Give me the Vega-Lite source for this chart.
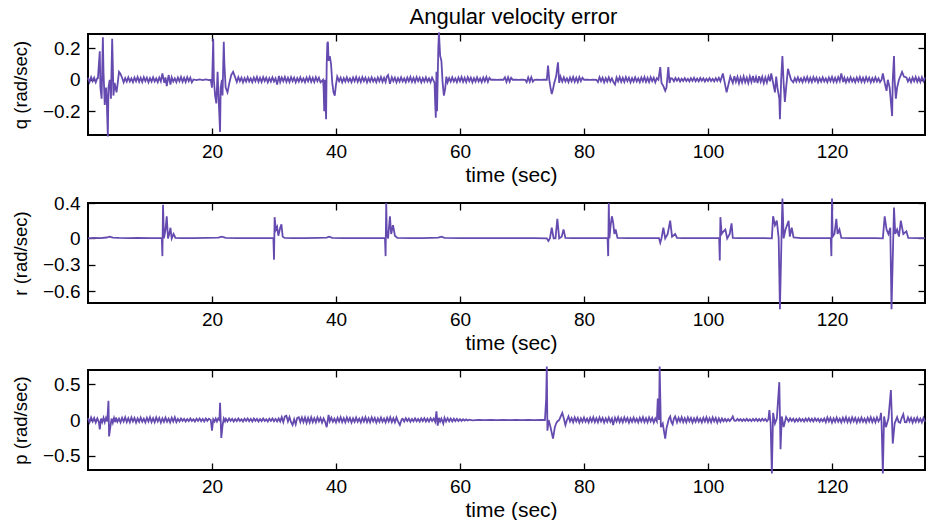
{
  "$schema": "https://vega.github.io/schema/vega-lite/v6.json",
  "padding": {"left": 10, "top": 4, "right": 3, "bottom": 0},
  "background": "white",
  "spacing": 7,
  "config": {
    "font": "Liberation Sans",
    "view": {"stroke": "black", "strokeWidth": 2},
    "axis": {"grid": false, "domain": false, "minExtent": 0, "tickColor": "black", "tickSize": -7, "tickWidth": 1.3, "labelFont": "Liberation Sans", "labelFontSize": 19, "labelColor": "black", "titleFont": "Liberation Sans", "titleFontWeight": "normal", "titleColor": "black"},
    "axisX": {"labelPadding": 14, "titlePadding": 3, "titleFontSize": 21, "titleX": 423},
    "axisY": {"labelPadding": 15, "titlePadding": 12, "titleFontSize": 18.5},
    "line": {"color": "#654bb0", "strokeWidth": 1.8, "clip": true},
    "title": {"fontSize": 22, "fontWeight": "normal", "color": "black", "font": "Liberation Sans"}
  },
  "datasets": {
    "q": [
      {"t":0,"v":0.012},{"t":0.25,"v":-0.014},{"t":0.5,"v":0.016},{"t":0.75,"v":-0.009},{"t":1,"v":0.013},{"t":1.25,"v":-0.016},{"t":1.5,"v":0.01},
      {"t":1.6,"v":0.01},{"t":1.9,"v":0.18},{"t":2,"v":-0.05},{"t":2.2,"v":-0.12},{"t":2.4,"v":0.27},{"t":2.5,"v":0.05},{"t":2.7,"v":-0.16},{"t":2.9,"v":-0.05},{"t":3,"v":-0.1},{"t":3.2,"v":-0.36},{"t":3.3,"v":-0.05},{"t":3.5,"v":0},{"t":3.7,"v":-0.12},{"t":3.9,"v":0.26},{"t":4,"v":0.1},{"t":4.1,"v":-0.1},{"t":4.3,"v":-0.02},{"t":4.6,"v":-0.08},{"t":4.8,"v":-0.02},{"t":5,"v":0.05},{"t":5.2,"v":0.04},
      {"t":5.5,"v":0.013},{"t":5.75,"v":-0.016},{"t":6,"v":0.01},{"t":6.25,"v":-0.012},{"t":6.5,"v":0.015},{"t":6.75,"v":-0.011},{"t":7,"v":0.009},{"t":7.25,"v":-0.015},{"t":7.5,"v":0.014},{"t":7.75,"v":-0.01},{"t":8,"v":0.017},{"t":8.25,"v":-0.013},{"t":8.5,"v":0.012},{"t":8.75,"v":-0.014},{"t":9,"v":0.016},{"t":9.25,"v":-0.009},{"t":9.5,"v":0.013},{"t":9.75,"v":-0.016},{"t":10,"v":0.01},{"t":10.25,"v":-0.012},{"t":10.5,"v":0.015},{"t":10.75,"v":-0.011},{"t":11,"v":0.009},{"t":11.25,"v":-0.015},{"t":11.5,"v":0.014},{"t":11.75,"v":-0.01},
      {"t":12,"v":0.04},{"t":12.3,"v":-0.02},{"t":12.5,"v":0.015},{"t":12.7,"v":-0.04},{"t":13,"v":0.03},{"t":13.3,"v":-0.03},{"t":13.5,"v":0.015},
      {"t":13.75,"v":-0.011},{"t":14,"v":0.009},{"t":14.25,"v":-0.015},{"t":14.5,"v":0.014},{"t":14.75,"v":-0.01},{"t":15,"v":0.017},{"t":15.25,"v":-0.013},{"t":15.5,"v":0.012},{"t":15.75,"v":-0.014},{"t":16,"v":0.016},{"t":16.25,"v":-0.009},{"t":16.5,"v":0.013},{"t":16.75,"v":-0.016},
      {"t":17,"v":0.002},{"t":17.5,"v":-0.002},{"t":18,"v":0.002},{"t":18.5,"v":-0.002},{"t":19,"v":0.002},{"t":19.5,"v":-0.002},
      {"t":19.8,"v":0},{"t":20,"v":-0.05},{"t":20.2,"v":0.26},{"t":20.3,"v":0},{"t":20.5,"v":-0.1},{"t":20.7,"v":-0.15},{"t":20.9,"v":0.05},{"t":21,"v":-0.05},{"t":21.3,"v":-0.33},{"t":21.4,"v":-0.05},{"t":21.6,"v":0},{"t":21.7,"v":-0.1},{"t":21.9,"v":0.24},{"t":22,"v":0.1},{"t":22.2,"v":-0.05},{"t":22.5,"v":-0.08},{"t":22.8,"v":-0.02},{"t":23.1,"v":0.03},{"t":23.4,"v":0.05},{"t":23.7,"v":0.02},
      {"t":24,"v":-0.014},{"t":24.25,"v":0.016},{"t":24.5,"v":-0.009},{"t":24.75,"v":0.013},{"t":25,"v":-0.016},{"t":25.25,"v":0.01},{"t":25.5,"v":-0.012},{"t":25.75,"v":0.015},{"t":26,"v":-0.011},{"t":26.25,"v":0.009},{"t":26.5,"v":-0.015},{"t":26.75,"v":0.014},{"t":27,"v":-0.01},{"t":27.25,"v":0.017},{"t":27.5,"v":-0.013},{"t":27.75,"v":0.012},{"t":28,"v":-0.014},{"t":28.25,"v":0.016},{"t":28.5,"v":-0.009},{"t":28.75,"v":0.013},{"t":29,"v":-0.016},{"t":29.25,"v":0.01},{"t":29.5,"v":-0.012},{"t":29.75,"v":0.015},{"t":30,"v":-0.011},{"t":30.25,"v":0.009},
      {"t":30.5,"v":-0.03},{"t":30.8,"v":0.025},
      {"t":31,"v":-0.015},{"t":31.25,"v":0.014},{"t":31.5,"v":-0.01},{"t":31.75,"v":0.017},{"t":32,"v":-0.013},{"t":32.25,"v":0.012},{"t":32.5,"v":-0.014},{"t":32.75,"v":0.016},{"t":33,"v":-0.009},{"t":33.25,"v":0.013},{"t":33.5,"v":-0.016},{"t":33.75,"v":0.01},{"t":34,"v":-0.012},{"t":34.25,"v":0.015},{"t":34.5,"v":-0.011},{"t":34.75,"v":0.009},{"t":35,"v":-0.015},{"t":35.25,"v":0.014},{"t":35.5,"v":-0.01},{"t":35.75,"v":0.017},{"t":36,"v":-0.013},{"t":36.25,"v":0.012},{"t":36.5,"v":-0.014},{"t":36.75,"v":0.016},{"t":37,"v":-0.009},{"t":37.25,"v":0.013},{"t":37.5,"v":-0.016},
      {"t":37.9,"v":0},{"t":38,"v":-0.05},{"t":38.1,"v":-0.2},{"t":38.2,"v":0},{"t":38.3,"v":-0.12},{"t":38.4,"v":-0.25},{"t":38.5,"v":0.1},{"t":38.6,"v":0.23},{"t":38.7,"v":0.24},{"t":38.8,"v":0.12},{"t":39,"v":0.15},{"t":39.2,"v":0.1},{"t":39.4,"v":-0.02},{"t":39.6,"v":-0.08},{"t":39.8,"v":-0.1},{"t":40,"v":-0.03},{"t":40.2,"v":0.02},
      {"t":40.5,"v":-0.009},{"t":40.75,"v":0.013},{"t":41,"v":-0.016},{"t":41.25,"v":0.01},{"t":41.5,"v":-0.012},{"t":41.75,"v":0.015},{"t":42,"v":-0.011},{"t":42.25,"v":0.009},{"t":42.5,"v":-0.015},{"t":42.75,"v":0.014},{"t":43,"v":-0.01},{"t":43.25,"v":0.017},{"t":43.5,"v":-0.013},{"t":43.75,"v":0.012},{"t":44,"v":-0.014},{"t":44.25,"v":0.016},{"t":44.5,"v":-0.009},{"t":44.75,"v":0.013},{"t":45,"v":-0.016},{"t":45.25,"v":0.01},{"t":45.5,"v":-0.012},{"t":45.75,"v":0.015},{"t":46,"v":-0.011},{"t":46.25,"v":0.009},{"t":46.5,"v":-0.015},{"t":46.75,"v":0.014},{"t":47,"v":-0.01},{"t":47.25,"v":0.017},{"t":47.5,"v":-0.013},{"t":47.75,"v":0.012},{"t":48,"v":-0.014},
      {"t":48.2,"v":0.02},{"t":48.4,"v":0.03},{"t":48.7,"v":-0.025},
      {"t":49,"v":0.016},{"t":49.25,"v":-0.009},{"t":49.5,"v":0.013},{"t":49.75,"v":-0.016},{"t":50,"v":0.01},{"t":50.25,"v":-0.012},{"t":50.5,"v":0.015},{"t":50.75,"v":-0.011},{"t":51,"v":0.009},{"t":51.25,"v":-0.015},{"t":51.5,"v":0.014},{"t":51.75,"v":-0.01},{"t":52,"v":0.017},{"t":52.25,"v":-0.013},{"t":52.5,"v":0.012},{"t":52.75,"v":-0.014},{"t":53,"v":0.016},{"t":53.25,"v":-0.009},{"t":53.5,"v":0.013},{"t":53.75,"v":-0.016},{"t":54,"v":0.01},{"t":54.25,"v":-0.012},{"t":54.5,"v":0.015},{"t":54.75,"v":-0.011},{"t":55,"v":0.009},{"t":55.25,"v":-0.015},{"t":55.5,"v":0.014},
      {"t":55.9,"v":-0.02},{"t":56,"v":-0.15},{"t":56.1,"v":-0.24},{"t":56.2,"v":0.05},{"t":56.3,"v":-0.2},{"t":56.5,"v":0.2},{"t":56.6,"v":0.3},{"t":56.8,"v":0.15},{"t":57,"v":0.12},{"t":57.2,"v":-0.02},{"t":57.4,"v":-0.1},{"t":57.6,"v":-0.06},{"t":57.8,"v":0.02},
      {"t":58,"v":-0.016},{"t":58.25,"v":0.01},{"t":58.5,"v":-0.012},{"t":58.75,"v":0.015},{"t":59,"v":-0.011},{"t":59.25,"v":0.009},{"t":59.5,"v":-0.015},{"t":59.75,"v":0.014},{"t":60,"v":-0.01},{"t":60.25,"v":0.017},{"t":60.5,"v":-0.013},{"t":60.75,"v":0.012},{"t":61,"v":-0.014},{"t":61.25,"v":0.016},{"t":61.5,"v":-0.009},{"t":61.75,"v":0.013},{"t":62,"v":-0.016},{"t":62.25,"v":0.01},{"t":62.5,"v":-0.012},{"t":62.75,"v":0.015},{"t":63,"v":-0.011},{"t":63.25,"v":0.009},{"t":63.5,"v":-0.015},{"t":63.75,"v":0.014},{"t":64,"v":-0.01},{"t":64.25,"v":0.017},{"t":64.5,"v":-0.013},{"t":64.75,"v":0.012},
      {"t":65,"v":0},{"t":65.5,"v":0.001},{"t":66,"v":-0.001},{"t":66.5,"v":0.001},{"t":67,"v":0},
      {"t":67.25,"v":0.015},{"t":67.5,"v":-0.014},{"t":67.75,"v":0.016},{"t":68,"v":-0.012},{"t":68.25,"v":0.013},
      {"t":68.5,"v":0},{"t":69,"v":0.001},{"t":69.5,"v":-0.001},{"t":70,"v":0.001},{"t":70.5,"v":0},
      {"t":70.75,"v":-0.015},{"t":71,"v":0.014},{"t":71.25,"v":-0.013},{"t":71.5,"v":0.016},{"t":71.75,"v":-0.012},
      {"t":72,"v":0},{"t":72.5,"v":0.001},{"t":73,"v":-0.001},{"t":73.5,"v":0},
      {"t":74,"v":0},{"t":74.2,"v":0.09},{"t":74.4,"v":0},{"t":74.6,"v":-0.05},{"t":74.8,"v":-0.09},{"t":75,"v":-0.06},{"t":75.2,"v":-0.02},{"t":75.5,"v":0.02},{"t":75.8,"v":0.11},{"t":76,"v":-0.02},{"t":76.2,"v":0.02},
      {"t":76.5,"v":-0.012},{"t":76.75,"v":0.015},{"t":77,"v":-0.011},{"t":77.25,"v":0.009},{"t":77.5,"v":-0.015},{"t":77.75,"v":0.014},{"t":78,"v":-0.01},{"t":78.25,"v":0.017},{"t":78.5,"v":-0.013},{"t":78.75,"v":0.012},{"t":79,"v":-0.014},{"t":79.25,"v":0.016},{"t":79.5,"v":-0.009},{"t":79.75,"v":0.013},
      {"t":80,"v":0},{"t":80.5,"v":0.001},{"t":81,"v":-0.001},{"t":81.5,"v":0.001},{"t":82,"v":0},
      {"t":82.25,"v":-0.014},{"t":82.5,"v":0.016},{"t":82.75,"v":-0.009},{"t":83,"v":0.013},{"t":83.25,"v":-0.016},{"t":83.5,"v":0.01},{"t":83.75,"v":-0.012},{"t":84,"v":0.015},{"t":84.25,"v":-0.011},{"t":84.5,"v":0.009},{"t":84.75,"v":-0.015},
      {"t":85,"v":-0.03},
      {"t":85.25,"v":0.014},{"t":85.5,"v":-0.01},{"t":85.75,"v":0.017},{"t":86,"v":-0.013},{"t":86.25,"v":0.012},{"t":86.5,"v":-0.014},{"t":86.75,"v":0.016},{"t":87,"v":-0.009},{"t":87.25,"v":0.013},{"t":87.5,"v":-0.016},{"t":87.75,"v":0.01},{"t":88,"v":-0.012},{"t":88.25,"v":0.015},{"t":88.5,"v":-0.011},{"t":88.75,"v":0.009},{"t":89,"v":-0.015},{"t":89.25,"v":0.014},{"t":89.5,"v":-0.01},{"t":89.75,"v":0.017},{"t":90,"v":-0.013},{"t":90.25,"v":0.012},{"t":90.5,"v":-0.014},{"t":90.75,"v":0.016},{"t":91,"v":-0.009},{"t":91.25,"v":0.013},{"t":91.5,"v":-0.016},{"t":91.75,"v":0.01},
      {"t":92,"v":0},{"t":92.3,"v":0.08},{"t":92.5,"v":-0.02},{"t":92.8,"v":-0.04},{"t":93.1,"v":-0.07},{"t":93.3,"v":-0.05},{"t":93.6,"v":0.08},{"t":93.8,"v":-0.02},{"t":94,"v":0.01},
      {"t":94.25,"v":0.008},{"t":94.5,"v":-0.01},{"t":94.75,"v":0.011},{"t":95,"v":-0.006},{"t":95.25,"v":0.009},{"t":95.5,"v":-0.011},{"t":95.75,"v":0.007},{"t":96,"v":-0.008},{"t":96.25,"v":0.01},{"t":96.5,"v":-0.008},{"t":96.75,"v":0.006},{"t":97,"v":-0.01},{"t":97.25,"v":0.01},{"t":97.5,"v":-0.007},{"t":97.75,"v":0.012},{"t":98,"v":-0.009},{"t":98.25,"v":0.008},{"t":98.5,"v":-0.01},{"t":98.75,"v":0.011},{"t":99,"v":-0.006},{"t":99.25,"v":0.009},{"t":99.5,"v":-0.011},{"t":99.75,"v":0.007},{"t":100,"v":-0.008},{"t":100.25,"v":0.01},{"t":100.5,"v":-0.008},{"t":100.75,"v":0.006},{"t":101,"v":-0.01},{"t":101.25,"v":0.01},{"t":101.5,"v":-0.007},{"t":101.75,"v":0.012},{"t":102,"v":-0.009},
      {"t":102.4,"v":0.04},{"t":102.7,"v":-0.02},{"t":103,"v":-0.08},{"t":103.3,"v":-0.03},{"t":103.6,"v":0.02},
      {"t":104,"v":-0.02},{"t":104.25,"v":0.022},{"t":104.5,"v":-0.013},{"t":104.75,"v":0.018},{"t":105,"v":-0.022},{"t":105.25,"v":0.014},{"t":105.5,"v":-0.017},{"t":105.75,"v":0.021},{"t":106,"v":-0.015},{"t":106.25,"v":0.013},{"t":106.5,"v":-0.021},{"t":106.75,"v":0.02},{"t":107,"v":-0.014},{"t":107.25,"v":0.024},{"t":107.5,"v":-0.018},{"t":107.75,"v":0.017},{"t":108,"v":-0.02},{"t":108.25,"v":0.022},{"t":108.5,"v":-0.013},{"t":108.75,"v":0.018},{"t":109,"v":-0.022},{"t":109.25,"v":0.014},{"t":109.5,"v":-0.017},{"t":109.75,"v":0.021},
      {"t":110,"v":-0.01},{"t":110.2,"v":0.04},{"t":110.5,"v":-0.02},{"t":110.8,"v":-0.08},{"t":111,"v":0.02},{"t":111.2,"v":-0.05},{"t":111.5,"v":-0.12},{"t":111.6,"v":-0.25},{"t":111.8,"v":0},{"t":112,"v":0.15},{"t":112.2,"v":-0.02},{"t":112.4,"v":-0.14},{"t":112.6,"v":-0.05},{"t":112.9,"v":0.07},{"t":113.1,"v":0.04},{"t":113.4,"v":0},
      {"t":113.75,"v":-0.016},{"t":114,"v":0.01},{"t":114.25,"v":-0.012},{"t":114.5,"v":0.015},{"t":114.75,"v":-0.011},{"t":115,"v":0.009},{"t":115.25,"v":-0.015},{"t":115.5,"v":0.014},{"t":115.75,"v":-0.01},{"t":116,"v":0.017},{"t":116.25,"v":-0.013},{"t":116.5,"v":0.012},{"t":116.75,"v":-0.014},{"t":117,"v":0.016},{"t":117.25,"v":-0.009},{"t":117.5,"v":0.013},{"t":117.75,"v":-0.016},{"t":118,"v":0.01},{"t":118.25,"v":-0.012},{"t":118.5,"v":0.015},{"t":118.75,"v":-0.011},{"t":119,"v":0.009},{"t":119.25,"v":-0.015},{"t":119.5,"v":0.014},{"t":119.75,"v":-0.01},{"t":120,"v":0.017},{"t":120.25,"v":-0.013},{"t":120.5,"v":0.012},{"t":120.75,"v":-0.014},{"t":121,"v":0.016},{"t":121.25,"v":-0.009},
      {"t":121.5,"v":0.04},{"t":121.8,"v":-0.015},
      {"t":122,"v":0.013},{"t":122.25,"v":-0.016},{"t":122.5,"v":0.01},{"t":122.75,"v":-0.012},{"t":123,"v":0.015},{"t":123.25,"v":-0.011},{"t":123.5,"v":0.009},{"t":123.75,"v":-0.015},{"t":124,"v":0.014},{"t":124.25,"v":-0.01},{"t":124.5,"v":0.017},{"t":124.75,"v":-0.013},{"t":125,"v":0.012},{"t":125.25,"v":-0.014},{"t":125.5,"v":0.016},{"t":125.75,"v":-0.009},{"t":126,"v":0.013},{"t":126.25,"v":-0.016},{"t":126.5,"v":0.01},{"t":126.75,"v":-0.012},{"t":127,"v":0.015},{"t":127.25,"v":-0.011},{"t":127.5,"v":0.009},{"t":127.75,"v":-0.015},
      {"t":128,"v":0},{"t":128.2,"v":0.04},{"t":128.5,"v":-0.02},{"t":128.8,"v":-0.07},{"t":129,"v":0},{"t":129.3,"v":-0.05},{"t":129.7,"v":-0.23},{"t":129.8,"v":0},{"t":130,"v":0.15},{"t":130.1,"v":0},{"t":130.3,"v":-0.12},{"t":130.5,"v":-0.05},{"t":130.8,"v":0},{"t":131.3,"v":0.05},{"t":131.6,"v":0.02},
      {"t":132,"v":0.015},{"t":132.25,"v":-0.011},{"t":132.5,"v":0.009},{"t":132.75,"v":-0.015},{"t":133,"v":0.014},{"t":133.25,"v":-0.01},{"t":133.5,"v":0.017},{"t":133.75,"v":-0.013},{"t":134,"v":0.012},{"t":134.25,"v":-0.014},{"t":134.5,"v":0.016},{"t":134.75,"v":-0.009},{"t":135,"v":0.013}
    ],
    "r": [
      {"t":0,"v":0},{"t":1,"v":0.005},{"t":2,"v":0.004},{"t":3,"v":0.01},{"t":3.5,"v":0.02},{"t":4,"v":0.008},{"t":5,"v":0.005},{"t":6.5,"v":0.003},{"t":8,"v":0.005},{"t":10,"v":0.003},{"t":11.9,"v":0.004},
      {"t":12,"v":-0.2},{"t":12.1,"v":0.38},{"t":12.25,"v":0},{"t":12.5,"v":0.1},{"t":12.7,"v":0.25},{"t":12.9,"v":0},{"t":13.1,"v":0.05},{"t":13.3,"v":0.12},{"t":13.5,"v":0},{"t":13.8,"v":0.05},{"t":14.1,"v":0.005},
      {"t":15,"v":0.004},{"t":17,"v":0.003},{"t":19,"v":0.005},{"t":21,"v":0.008},{"t":21.6,"v":0.02},{"t":22.2,"v":0.006},{"t":24,"v":0.004},{"t":26,"v":0.003},{"t":28,"v":0.004},{"t":29.9,"v":0.003},
      {"t":30,"v":-0.24},{"t":30.1,"v":0.24},{"t":30.3,"v":0.1},{"t":30.5,"v":0.13},{"t":30.7,"v":0.03},{"t":31,"v":0.12},{"t":31.2,"v":0.16},{"t":31.4,"v":0.02},{"t":31.7,"v":0.005},
      {"t":33,"v":0.004},{"t":35,"v":0.003},{"t":37,"v":0.005},{"t":38.5,"v":0.008},{"t":38.9,"v":0.02},{"t":39.4,"v":0.006},{"t":41,"v":0.004},{"t":43,"v":0.003},{"t":45,"v":0.004},{"t":47.9,"v":0.003},
      {"t":48,"v":-0.2},{"t":48.1,"v":0.4},{"t":48.2,"v":0.05},{"t":48.4,"v":0},{"t":48.7,"v":0.25},{"t":48.9,"v":0.05},{"t":49.2,"v":0.15},{"t":49.5,"v":0.03},{"t":49.9,"v":0.005},
      {"t":52,"v":0.004},{"t":54,"v":0.003},{"t":56.5,"v":0.008},{"t":57,"v":0.02},{"t":57.5,"v":0.006},{"t":60,"v":0.003},{"t":63,"v":0.004},{"t":66,"v":0.003},{"t":69,"v":0.004},{"t":72,"v":0.003},{"t":74,"v":0},
      {"t":74.25,"v":-0.03},{"t":74.5,"v":0},{"t":74.8,"v":0.12},{"t":75.1,"v":0},{"t":75.4,"v":0},{"t":75.7,"v":0.22},{"t":76,"v":0},{"t":76.4,"v":0.02},{"t":76.7,"v":0.1},{"t":77,"v":0.005},
      {"t":78,"v":0.004},{"t":80,"v":0.003},{"t":82,"v":0.004},{"t":83.8,"v":0.003},
      {"t":83.9,"v":-0.2},{"t":84,"v":0.4},{"t":84.1,"v":0},{"t":84.3,"v":0.15},{"t":84.5,"v":0.25},{"t":84.7,"v":0.18},{"t":84.9,"v":0.05},{"t":85.1,"v":0.1},{"t":85.4,"v":0.005},
      {"t":87,"v":0.004},{"t":89,"v":0.003},{"t":92.1,"v":0.004},
      {"t":92.3,"v":-0.05},{"t":92.5,"v":0},{"t":92.8,"v":0.12},{"t":93.1,"v":0},{"t":93.5,"v":0.05},{"t":93.9,"v":0.2},{"t":94.2,"v":0.02},{"t":94.7,"v":0.05},{"t":95,"v":0.005},
      {"t":96,"v":0.004},{"t":98,"v":0.003},{"t":100,"v":0.004},{"t":101.8,"v":0.003},
      {"t":101.9,"v":-0.25},{"t":102,"v":0.24},{"t":102.2,"v":0.05},{"t":102.5,"v":0.08},{"t":102.8,"v":0.1},{"t":103.1,"v":0},{"t":103.5,"v":0.05},{"t":103.8,"v":0.17},{"t":104,"v":0.005},
      {"t":105,"v":0.004},{"t":107,"v":0.003},{"t":109,"v":0.004},{"t":110.3,"v":0},
      {"t":110.5,"v":0.25},{"t":110.8,"v":0.15},{"t":111.1,"v":0.2},{"t":111.4,"v":0},{"t":111.6,"v":-0.8},{"t":112,"v":0.45},{"t":112.2,"v":0},{"t":112.5,"v":0.1},{"t":113,"v":0.2},{"t":113.2,"v":0.02},{"t":113.5,"v":0.12},{"t":113.8,"v":0.01},
      {"t":115,"v":0.004},{"t":117,"v":0.003},{"t":119.8,"v":0.003},
      {"t":119.9,"v":-0.2},{"t":120,"v":0.45},{"t":120.1,"v":0.02},{"t":120.4,"v":0.05},{"t":120.7,"v":0.22},{"t":120.9,"v":0.05},{"t":121.2,"v":0.1},{"t":121.5,"v":0.005},
      {"t":123,"v":0.004},{"t":125,"v":0.003},{"t":127,"v":0.004},{"t":128.2,"v":0},
      {"t":128.5,"v":0.25},{"t":128.8,"v":0.1},{"t":129.1,"v":0.05},{"t":129.4,"v":0.12},{"t":129.6,"v":-0.8},{"t":130,"v":0.35},{"t":130.2,"v":0.05},{"t":130.5,"v":0.1},{"t":130.8,"v":0.02},{"t":131.1,"v":0.2},{"t":131.5,"v":0.05},{"t":132,"v":0.08},{"t":132.3,"v":0.005},
      {"t":134,"v":0.003},{"t":135,"v":0.004}
    ],
    "p": [
      {"t":0,"v":0.026},{"t":0.25,"v":-0.031},{"t":0.5,"v":0.035},{"t":0.75,"v":-0.02},{"t":1,"v":0.029},{"t":1.25,"v":-0.035},{"t":1.5,"v":0.022},{"t":1.75,"v":-0.026},
      {"t":1.9,"v":-0.13},{"t":2.1,"v":0.02},{"t":2.3,"v":-0.03},{"t":2.5,"v":0.03},{"t":2.7,"v":-0.03},{"t":2.9,"v":0.03},{"t":3.1,"v":-0.02},{"t":3.3,"v":0.27},{"t":3.4,"v":-0.23},{"t":3.6,"v":-0.1},{"t":3.8,"v":0.02},{"t":4,"v":-0.04},{"t":4.2,"v":0.03},{"t":4.4,"v":-0.03},
      {"t":4.5,"v":0.033},{"t":4.75,"v":-0.024},{"t":5,"v":0.02},{"t":5.25,"v":-0.033},{"t":5.5,"v":0.031},{"t":5.75,"v":-0.022},{"t":6,"v":0.037},{"t":6.25,"v":-0.029},{"t":6.5,"v":0.026},{"t":6.75,"v":-0.031},{"t":7,"v":0.035},{"t":7.25,"v":-0.02},{"t":7.5,"v":0.029},{"t":7.75,"v":-0.035},{"t":8,"v":0.022},{"t":8.25,"v":-0.026},{"t":8.5,"v":0.033},{"t":8.75,"v":-0.024},{"t":9,"v":0.02},{"t":9.25,"v":-0.033},{"t":9.5,"v":0.031},{"t":9.75,"v":-0.022},{"t":10,"v":0.037},{"t":10.25,"v":-0.029},{"t":10.5,"v":0.026},{"t":10.75,"v":-0.031},{"t":11,"v":0.035},{"t":11.25,"v":-0.02},{"t":11.5,"v":0.029},{"t":11.75,"v":-0.035},{"t":12,"v":0.022},{"t":12.25,"v":-0.026},{"t":12.5,"v":0.033},{"t":12.75,"v":-0.024},{"t":13,"v":0.02},{"t":13.25,"v":-0.033},{"t":13.5,"v":0.031},{"t":13.75,"v":-0.022},{"t":14,"v":0.037},{"t":14.25,"v":-0.029},
      {"t":14.5,"v":0.016},{"t":14.75,"v":-0.019},{"t":15,"v":0.021},{"t":15.25,"v":-0.012},{"t":15.5,"v":0.017},{"t":15.75,"v":-0.021},{"t":16,"v":0.013},{"t":16.25,"v":-0.016},{"t":16.5,"v":0.02},{"t":16.75,"v":-0.014},{"t":17,"v":0.012},{"t":17.25,"v":-0.02},{"t":17.5,"v":0.019},{"t":17.75,"v":-0.013},{"t":18,"v":0.022},{"t":18.25,"v":-0.017},{"t":18.5,"v":0.016},{"t":18.75,"v":-0.019},{"t":19,"v":0.021},{"t":19.25,"v":-0.012},{"t":19.5,"v":0.017},
      {"t":19.8,"v":0},{"t":20,"v":-0.15},{"t":20.2,"v":0.01},{"t":20.4,"v":-0.02},{"t":20.6,"v":0.02},{"t":20.8,"v":-0.02},{"t":21,"v":0.02},{"t":21.2,"v":0},{"t":21.3,"v":0.24},{"t":21.5,"v":-0.25},{"t":21.7,"v":-0.08},{"t":21.9,"v":0.02},{"t":22.1,"v":-0.02},
      {"t":22.25,"v":0.016},{"t":22.5,"v":-0.019},{"t":22.75,"v":0.021},{"t":23,"v":-0.012},{"t":23.25,"v":0.017},{"t":23.5,"v":-0.021},{"t":23.75,"v":0.013},{"t":24,"v":-0.016},{"t":24.25,"v":0.02},{"t":24.5,"v":-0.014},{"t":24.75,"v":0.012},{"t":25,"v":-0.02},{"t":25.25,"v":0.019},{"t":25.5,"v":-0.013},{"t":25.75,"v":0.022},{"t":26,"v":-0.017},{"t":26.25,"v":0.016},{"t":26.5,"v":-0.019},{"t":26.75,"v":0.021},{"t":27,"v":-0.012},{"t":27.25,"v":0.017},{"t":27.5,"v":-0.021},{"t":27.75,"v":0.013},{"t":28,"v":-0.016},{"t":28.25,"v":0.02},{"t":28.5,"v":-0.014},{"t":28.75,"v":0.012},{"t":29,"v":-0.02},{"t":29.25,"v":0.019},{"t":29.5,"v":-0.013},{"t":29.75,"v":0.022},{"t":30,"v":-0.017},{"t":30.25,"v":0.016},{"t":30.5,"v":-0.019},{"t":30.75,"v":0.021},
      {"t":31,"v":-0.02},{"t":31.25,"v":0.04},{"t":31.5,"v":-0.03},{"t":31.75,"v":0.05},{"t":32,"v":0.06},{"t":32.25,"v":-0.02},{"t":32.5,"v":0.04},{"t":32.75,"v":-0.03},{"t":33,"v":-0.07},{"t":33.25,"v":0.01},{"t":33.5,"v":-0.06},{"t":33.75,"v":0.03},{"t":34,"v":0.04},{"t":34.25,"v":-0.03},{"t":34.5,"v":0.035},{"t":34.75,"v":-0.03},{"t":35,"v":0.035},{"t":35.25,"v":-0.04},{"t":35.5,"v":0.03},{"t":35.75,"v":-0.035},{"t":36,"v":0.037},{"t":36.25,"v":-0.029},{"t":36.5,"v":0.026},{"t":36.75,"v":-0.031},{"t":37,"v":0.035},{"t":37.25,"v":-0.02},{"t":37.5,"v":0.029},{"t":37.75,"v":-0.035},{"t":38,"v":0.022},{"t":38.25,"v":-0.026},
      {"t":38.5,"v":-0.1},{"t":38.8,"v":0.07},{"t":39,"v":-0.02},
      {"t":39.25,"v":0.033},{"t":39.5,"v":-0.024},{"t":39.75,"v":0.02},{"t":40,"v":-0.033},{"t":40.25,"v":0.031},{"t":40.5,"v":-0.022},{"t":40.75,"v":0.037},{"t":41,"v":-0.029},{"t":41.25,"v":0.026},{"t":41.5,"v":-0.031},{"t":41.75,"v":0.035},{"t":42,"v":-0.02},{"t":42.25,"v":0.029},{"t":42.5,"v":-0.035},{"t":42.75,"v":0.022},{"t":43,"v":-0.026},{"t":43.25,"v":0.033},{"t":43.5,"v":-0.024},{"t":43.75,"v":0.02},{"t":44,"v":-0.033},{"t":44.25,"v":0.031},{"t":44.5,"v":-0.022},{"t":44.75,"v":0.037},{"t":45,"v":-0.029},{"t":45.25,"v":0.026},{"t":45.5,"v":-0.031},{"t":45.75,"v":0.035},{"t":46,"v":-0.02},{"t":46.25,"v":0.029},{"t":46.5,"v":-0.035},{"t":46.75,"v":0.022},{"t":47,"v":-0.026},{"t":47.25,"v":0.033},{"t":47.5,"v":-0.024},{"t":47.75,"v":0.02},{"t":48,"v":-0.033},{"t":48.25,"v":0.031},{"t":48.5,"v":-0.022},{"t":48.75,"v":0.037},{"t":49,"v":-0.029},{"t":49.25,"v":0.026},{"t":49.5,"v":-0.031},{"t":49.75,"v":0.035},{"t":50,"v":-0.02},
      {"t":50.3,"v":-0.07},{"t":50.6,"v":0.01},
      {"t":50.75,"v":0.018},{"t":51,"v":-0.022},{"t":51.25,"v":0.025},{"t":51.5,"v":-0.014},{"t":51.75,"v":0.02},{"t":52,"v":-0.025},{"t":52.25,"v":0.015},{"t":52.5,"v":-0.018},{"t":52.75,"v":0.023},{"t":53,"v":-0.017},{"t":53.25,"v":0.014},{"t":53.5,"v":-0.023},{"t":53.75,"v":0.022},{"t":54,"v":-0.015},{"t":54.25,"v":0.026},{"t":54.5,"v":-0.02},{"t":54.75,"v":0.018},{"t":55,"v":-0.022},{"t":55.25,"v":0.025},{"t":55.5,"v":-0.014},{"t":55.75,"v":0.02},{"t":56,"v":-0.025},
      {"t":56.2,"v":0.12},{"t":56.4,"v":-0.08},{"t":56.6,"v":0.03},{"t":56.8,"v":-0.02},{"t":57,"v":0.02},{"t":57.3,"v":-0.05},{"t":57.5,"v":0.03},
      {"t":57.75,"v":-0.022},{"t":58,"v":0.025},{"t":58.25,"v":-0.018},{"t":58.5,"v":0.02},{"t":58.75,"v":-0.02},{"t":59,"v":0.018},{"t":59.25,"v":-0.015},{"t":59.5,"v":0.016},{"t":59.75,"v":-0.014},{"t":60,"v":0.012},{"t":60.25,"v":-0.012},{"t":60.5,"v":0.01},{"t":60.75,"v":-0.008},{"t":61,"v":0.008},{"t":61.25,"v":-0.006},{"t":61.5,"v":0.005},
      {"t":62,"v":-0.004},{"t":63,"v":0.003},{"t":64,"v":-0.003},{"t":65,"v":0.002},{"t":66,"v":-0.002},{"t":67,"v":0.002},{"t":68,"v":-0.002},{"t":69,"v":0.002},{"t":70,"v":-0.002},{"t":71,"v":0.002},{"t":72,"v":-0.002},{"t":73,"v":0.002},{"t":73.7,"v":0},
      {"t":73.9,"v":0.3},{"t":74,"v":0.75},{"t":74.1,"v":-0.15},{"t":74.3,"v":0},{"t":74.6,"v":-0.1},{"t":75,"v":-0.26},{"t":75.3,"v":-0.1},{"t":75.5,"v":-0.05},{"t":75.7,"v":-0.02},{"t":76,"v":0},{"t":76.25,"v":0.05},{"t":76.5,"v":0.1},{"t":76.75,"v":0.02},{"t":77,"v":-0.07},{"t":77.25,"v":0},{"t":77.5,"v":0.05},{"t":77.75,"v":-0.02},
      {"t":78,"v":0.026},{"t":78.25,"v":-0.031},{"t":78.5,"v":0.035},{"t":78.75,"v":-0.02},{"t":79,"v":0.029},{"t":79.25,"v":-0.035},{"t":79.5,"v":0.022},{"t":79.75,"v":-0.026},{"t":80,"v":0.033},{"t":80.25,"v":-0.024},{"t":80.5,"v":0.02},{"t":80.75,"v":-0.033},{"t":81,"v":0.031},{"t":81.25,"v":-0.022},{"t":81.5,"v":0.037},{"t":81.75,"v":-0.029},{"t":82,"v":0.026},{"t":82.25,"v":-0.031},{"t":82.5,"v":0.035},{"t":82.75,"v":-0.02},{"t":83,"v":0.029},{"t":83.25,"v":-0.035},{"t":83.5,"v":0.022},{"t":83.75,"v":-0.026},{"t":84,"v":0.033},{"t":84.25,"v":-0.024},{"t":84.5,"v":0.02},
      {"t":84.7,"v":-0.07},
      {"t":85,"v":0.031},{"t":85.25,"v":-0.022},{"t":85.5,"v":0.037},{"t":85.75,"v":-0.029},{"t":86,"v":0.026},{"t":86.25,"v":-0.031},{"t":86.5,"v":0.035},{"t":86.75,"v":-0.02},{"t":87,"v":0.029},{"t":87.25,"v":-0.035},{"t":87.5,"v":0.022},{"t":87.75,"v":-0.026},{"t":88,"v":0.033},{"t":88.25,"v":-0.024},{"t":88.5,"v":0.02},{"t":88.75,"v":-0.033},{"t":89,"v":0.031},{"t":89.25,"v":-0.022},{"t":89.5,"v":0.037},{"t":89.75,"v":-0.029},{"t":90,"v":0.026},{"t":90.25,"v":-0.031},{"t":90.5,"v":0.035},{"t":90.75,"v":-0.02},{"t":91,"v":0.029},{"t":91.25,"v":-0.035},{"t":91.5,"v":0.022},
      {"t":91.75,"v":-0.02},{"t":91.9,"v":0.3},{"t":92.1,"v":0},{"t":92.2,"v":0.75},{"t":92.4,"v":-0.1},{"t":92.7,"v":-0.05},{"t":93.1,"v":-0.26},{"t":93.3,"v":-0.12},{"t":93.5,"v":-0.05},{"t":93.7,"v":0.02},{"t":93.9,"v":0.05},{"t":94.1,"v":-0.03},{"t":94.3,"v":-0.06},{"t":94.5,"v":0.02},{"t":94.7,"v":0.05},
      {"t":95,"v":-0.033},{"t":95.25,"v":0.031},{"t":95.5,"v":-0.022},{"t":95.75,"v":0.037},{"t":96,"v":-0.029},{"t":96.25,"v":0.026},{"t":96.5,"v":-0.031},{"t":96.75,"v":0.035},{"t":97,"v":-0.02},{"t":97.25,"v":0.029},{"t":97.5,"v":-0.035},{"t":97.75,"v":0.022},{"t":98,"v":-0.026},{"t":98.25,"v":0.033},{"t":98.5,"v":-0.024},{"t":98.75,"v":0.02},{"t":99,"v":-0.033},{"t":99.25,"v":0.031},{"t":99.5,"v":-0.022},{"t":99.75,"v":0.037},{"t":100,"v":-0.029},{"t":100.25,"v":0.026},{"t":100.5,"v":-0.031},{"t":100.75,"v":0.035},{"t":101,"v":-0.02},{"t":101.25,"v":0.029},{"t":101.5,"v":-0.035},{"t":101.75,"v":0.022},{"t":102,"v":-0.026},{"t":102.25,"v":0.02},{"t":102.5,"v":-0.018},{"t":102.75,"v":0.015},{"t":103,"v":-0.018},{"t":103.25,"v":0.014},{"t":103.5,"v":-0.015},{"t":103.75,"v":0.012},
      {"t":104,"v":0.05},{"t":104.25,"v":-0.01},
      {"t":104.5,"v":-0.012},{"t":104.75,"v":0.015},{"t":105,"v":-0.01},{"t":105.25,"v":0.013},{"t":105.5,"v":-0.015},{"t":105.75,"v":0.011},{"t":106,"v":-0.013},{"t":106.25,"v":0.016},{"t":106.5,"v":-0.012},{"t":106.75,"v":0.01},{"t":107,"v":-0.016},{"t":107.25,"v":0.015},{"t":107.5,"v":-0.011},{"t":107.75,"v":0.018},{"t":108,"v":-0.014},{"t":108.25,"v":0.013},{"t":108.5,"v":-0.015},{"t":108.75,"v":0.017},{"t":109,"v":-0.01},{"t":109.25,"v":0.014},{"t":109.5,"v":-0.017},{"t":109.75,"v":0.011},
      {"t":109.9,"v":0.14},{"t":110.1,"v":-0.05},{"t":110.3,"v":-0.75},{"t":110.5,"v":0.1},{"t":110.8,"v":-0.05},{"t":111.1,"v":0.02},{"t":111.5,"v":0.53},{"t":111.7,"v":-0.41},{"t":111.9,"v":0.05},{"t":112.2,"v":-0.1},{"t":112.6,"v":0.04},
      {"t":113,"v":-0.02},{"t":113.25,"v":0.022},{"t":113.5,"v":-0.013},{"t":113.75,"v":0.018},{"t":114,"v":-0.022},{"t":114.25,"v":0.014},{"t":114.5,"v":-0.017},{"t":114.75,"v":0.021},{"t":115,"v":-0.015},{"t":115.25,"v":0.013},{"t":115.5,"v":-0.021},{"t":115.75,"v":0.02},{"t":116,"v":-0.014},{"t":116.25,"v":0.024},{"t":116.5,"v":-0.018},{"t":116.75,"v":0.017},{"t":117,"v":-0.02},{"t":117.25,"v":0.022},{"t":117.5,"v":-0.013},{"t":117.75,"v":0.018},{"t":118,"v":-0.022},{"t":118.25,"v":0.014},{"t":118.5,"v":-0.017},{"t":118.75,"v":0.021},
      {"t":119,"v":-0.031},{"t":119.25,"v":0.035},{"t":119.5,"v":-0.02},{"t":119.75,"v":0.029},{"t":120,"v":-0.035},{"t":120.25,"v":0.022},{"t":120.5,"v":-0.026},{"t":120.75,"v":0.033},{"t":121,"v":-0.024},{"t":121.25,"v":0.02},{"t":121.5,"v":-0.033},{"t":121.75,"v":0.031},{"t":122,"v":-0.022},{"t":122.25,"v":0.037},{"t":122.5,"v":-0.029},{"t":122.75,"v":0.026},{"t":123,"v":-0.031},{"t":123.25,"v":0.035},{"t":123.5,"v":-0.02},{"t":123.75,"v":0.029},{"t":124,"v":-0.035},{"t":124.25,"v":0.022},{"t":124.5,"v":-0.026},{"t":124.75,"v":0.033},{"t":125,"v":-0.024},{"t":125.25,"v":0.02},{"t":125.5,"v":-0.033},{"t":125.75,"v":0.031},{"t":126,"v":-0.022},{"t":126.25,"v":0.037},{"t":126.5,"v":-0.029},{"t":126.75,"v":0.026},{"t":127,"v":-0.031},{"t":127.25,"v":0.035},{"t":127.5,"v":-0.02},{"t":127.75,"v":0.02},
      {"t":127.9,"v":0.1},{"t":128,"v":-0.05},{"t":128.2,"v":-0.75},{"t":128.4,"v":0.05},{"t":128.7,"v":-0.1},{"t":129.1,"v":0.02},{"t":129.5,"v":0.42},{"t":129.8,"v":-0.33},{"t":130.1,"v":-0.05},{"t":130.5,"v":0.04},{"t":130.75,"v":-0.03},{"t":131,"v":-0.04},{"t":131.25,"v":0.03},{"t":131.5,"v":0.08},{"t":131.75,"v":-0.03},
      {"t":132,"v":-0.031},{"t":132.25,"v":0.035},{"t":132.5,"v":-0.02},{"t":132.75,"v":0.029},{"t":133,"v":-0.035},{"t":133.25,"v":0.022},{"t":133.5,"v":-0.026},{"t":133.75,"v":0.033},{"t":134,"v":-0.024},{"t":134.25,"v":0.02},{"t":134.5,"v":-0.033},{"t":134.75,"v":0.031},{"t":135,"v":-0.022}
    ]
  },
  "vconcat": [
    {
      "width": 837, "height": 101,
      "title": {"text": "Angular velocity error", "anchor": "middle", "offset": 0, "dx": 7},
      "data": {"name": "q"},
      "layer": [
        {"mark": "line", "encoding": {
          "x": {"field": "t", "type": "quantitative", "scale": {"domain": [0, 135], "nice": false}, "axis": {"values": [20, 40, 60, 80, 100, 120], "title": "time (sec)"}},
          "y": {"field": "v", "type": "quantitative", "scale": {"domain": [-0.35, 0.29], "nice": false, "zero": false}, "axis": {"values": [-0.2, 0, 0.2], "format": "~g", "title": "q (rad/sec)"}}}},
        {"mark": {"type": "line", "opacity": 0}, "encoding": {
          "x": {"field": "t", "type": "quantitative", "axis": {"orient": "top", "values": [20, 40, 60, 80, 100, 120], "labels": false, "title": null}},
          "y": {"field": "v", "type": "quantitative", "axis": {"orient": "right", "values": [-0.2, 0, 0.2], "labels": false, "title": null}}}}
      ],
      "resolve": {"axis": {"x": "independent", "y": "independent"}}
    },
    {
      "width": 837, "height": 100,
      "data": {"name": "r"},
      "layer": [
        {"mark": "line", "encoding": {
          "x": {"field": "t", "type": "quantitative", "scale": {"domain": [0, 135], "nice": false}, "axis": {"values": [20, 40, 60, 80, 100, 120], "title": "time (sec)"}},
          "y": {"field": "v", "type": "quantitative", "scale": {"domain": [-0.73, 0.4], "nice": false, "zero": false}, "axis": {"values": [-0.6, -0.3, 0, 0.4], "format": "~g", "title": "r (rad/sec)"}}}},
        {"mark": {"type": "line", "opacity": 0}, "encoding": {
          "x": {"field": "t", "type": "quantitative", "axis": {"orient": "top", "values": [20, 40, 60, 80, 100, 120], "labels": false, "title": null}},
          "y": {"field": "v", "type": "quantitative", "axis": {"orient": "right", "values": [-0.6, -0.3, 0, 0.4], "labels": false, "title": null}}}}
      ],
      "resolve": {"axis": {"x": "independent", "y": "independent"}}
    },
    {
      "width": 837, "height": 100,
      "data": {"name": "p"},
      "layer": [
        {"mark": "line", "encoding": {
          "x": {"field": "t", "type": "quantitative", "scale": {"domain": [0, 135], "nice": false}, "axis": {"values": [20, 40, 60, 80, 100, 120], "title": "time (sec)"}},
          "y": {"field": "v", "type": "quantitative", "scale": {"domain": [-0.7, 0.7], "nice": false, "zero": false}, "axis": {"values": [-0.5, 0, 0.5], "format": "~g", "title": "p (rad/sec)"}}}},
        {"mark": {"type": "line", "opacity": 0}, "encoding": {
          "x": {"field": "t", "type": "quantitative", "axis": {"orient": "top", "values": [20, 40, 60, 80, 100, 120], "labels": false, "title": null}},
          "y": {"field": "v", "type": "quantitative", "axis": {"orient": "right", "values": [-0.5, 0, 0.5], "labels": false, "title": null}}}}
      ],
      "resolve": {"axis": {"x": "independent", "y": "independent"}}
    }
  ]
}
